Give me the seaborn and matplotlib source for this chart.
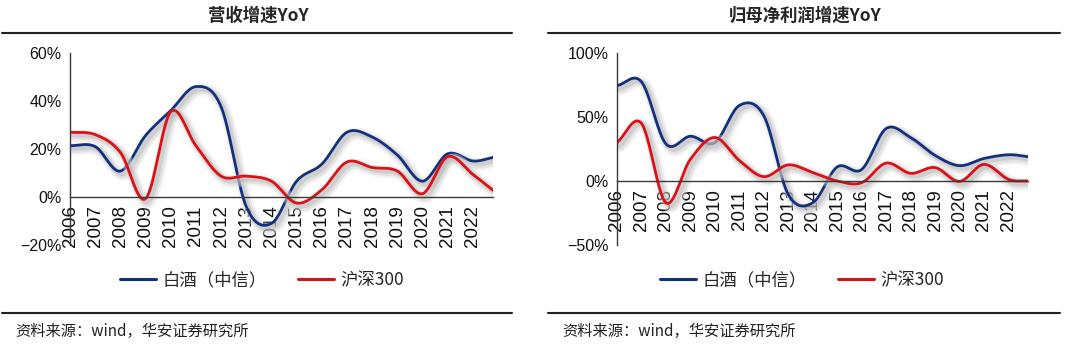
import numpy as np
import pandas as pd
import matplotlib
matplotlib.use("Agg")
import matplotlib.pyplot as plt
import matplotlib.patheffects as pe
from matplotlib.lines import Line2D
import seaborn as sns

# ---------------- data ----------------
years = [str(y) for y in range(2006, 2023)]
period_x = [2006, 2007, 2008, 2009, 2010, 2011, 2012, 2013, 2014, 2015,
            2016, 2017, 2018, 2019, 2020, 2021, 2022, 2022.8]

rev_baijiu = [21.4, 21.0, 10.8, 25.6, 36.0, 46.0, 37.6, -4.0, -11.0, 6.6,
              13.7, 27.0, 25.0, 17.5, 6.6, 18.0, 15.0, 16.5]
rev_hs300 = [27.0, 26.0, 18.6, -0.7, 35.5, 21.4, 8.7, 8.7, 6.6, -2.5,
             3.0, 14.6, 12.3, 10.8, 1.4, 16.8, 9.4, 2.8]

profit_baijiu = [74.5, 77.5, 29.0, 35.0, 30.0, 59.0, 51.0, -10.5, -17.0, 11.0,
                 9.0, 41.0, 34.0, 20.0, 12.0, 17.6, 20.5, 19.0]
profit_hs300 = [30.0, 45.0, -17.0, 17.0, 34.0, 16.0, 3.4, 12.6, 6.6, 0.0,
                -1.3, 14.0, 6.0, 10.5, -0.3, 13.0, 1.3, 0.0]

series_names = ["白酒（中信）", "沪深300"]
titles = ["营收增速YoY", "归母净利润增速YoY"]
source_text = "资料来源：wind，华安证券研究所"

BLUE = "#13307f"
RED = "#dd1016"

# ---------------- style ----------------
sns.set_theme(style="white")
plt.rcParams["font.family"] = ["Liberation Sans", "Noto Sans CJK SC", "DejaVu Sans"]
plt.rcParams["axes.unicode_minus"] = True
CJK = ["Noto Sans CJK SC", "Liberation Sans", "DejaVu Sans"]
LAT = ["Liberation Sans", "DejaVu Sans"]


def smooth(xs, ys, n=30):
    """Catmull-Rom rendering of a smoothed line (like a spreadsheet 'smoothed line')."""
    P = np.column_stack([xs, ys]).astype(float)
    P = np.vstack([2 * P[0] - P[1], P, 2 * P[-1] - P[-2]])
    out = []
    for i in range(1, len(P) - 2):
        p0, p1, p2, p3 = P[i - 1], P[i], P[i + 1], P[i + 2]
        t = np.linspace(0, 1, n, endpoint=False)[:, None]
        seg = 0.5 * ((2 * p1) + (-p0 + p2) * t + (2 * p0 - 5 * p1 + 4 * p2 - p3) * t ** 2
                     + (-p0 + 3 * p1 - 3 * p2 + p3) * t ** 3)
        out.append(seg)
    out.append(P[-2][None, :])
    S = np.vstack(out)
    return S[:, 0], S[:, 1]


shadow = [
    pe.Stroke(linewidth=9, foreground="#e0e0e0", alpha=0.35, offset=(2.5, -2.5)),
    pe.Stroke(linewidth=6, foreground="#c4c4c4", alpha=0.35, offset=(2.5, -2.5)),
    pe.Stroke(linewidth=3.5, foreground="#a8a8a8", alpha=0.35, offset=(2, -2)),
    pe.Normal(),
]

fig = plt.figure(figsize=(10.8, 3.45), dpi=100)

panels = [
    dict(rect=[70 / 1080, 1 - 245 / 345, (493 - 70) / 1080, 192 / 345],
         data=[rev_baijiu, rev_hs300], ylim=(-20, 60), yticks=[-20, 0, 20, 40, 60],
         title_x=258, rule=(2, 512), legend_x=262, src_x=15),
    dict(rect=[617 / 1080, 1 - 245 / 345, (1028 - 617) / 1080, 192 / 345],
         data=[profit_baijiu, profit_hs300], ylim=(-50, 100), yticks=[-50, 0, 50, 100],
         title_x=805, rule=(548, 1060), legend_x=802, src_x=562),
]

for k, p in enumerate(panels):
    ax = fig.add_axes(p["rect"])
    for vals, name, col in zip(p["data"], series_names, [BLUE, RED]):
        sx, sy = smooth(period_x, vals)
        df = pd.DataFrame({"x": sx, "y": sy})
        sns.lineplot(data=df, x="x", y="y", ax=ax, color=col, linewidth=2.0,
                     sort=False, estimator=None, label=name)
        ax.lines[-1].set_path_effects(shadow)
        ax.lines[-1].set_solid_capstyle("round")
    ax.set_xlim(2006, 2022.8)
    ax.set_ylim(*p["ylim"])
    ax.set_xlabel("")
    ax.set_ylabel("")
    for s in ["top", "right"]:
        ax.spines[s].set_visible(False)
    ax.spines["bottom"].set_position(("data", 0))
    ax.spines["bottom"].set_bounds(2006, 2022.8)
    for s in ["left", "bottom"]:
        ax.spines[s].set_color("#3a3a3a")
        ax.spines[s].set_linewidth(1.0)
    ax.tick_params(axis="both", direction="out", length=4, width=1.0, color="#3a3a3a",
                   pad=2, labelcolor="#111111")
    ax.tick_params(axis="x", length=5, pad=1, labelrotation=90)
    ax.set_yticks(p["yticks"])
    ax.set_yticklabels([f"{v}%".replace("-", "−") for v in p["yticks"]],
                       fontsize=11.5, family=LAT)
    ax.set_xticks([int(y) for y in years])
    ax.set_xticklabels(years, rotation=90, fontsize=13.5, family=LAT,
                       ha="center", va="top")
    ax.grid(False)
    ax.set_facecolor("white")
    handles, labels = ax.get_legend_handles_labels()
    ax.get_legend().remove()
    clean = [Line2D([0], [0], color=h.get_color(), linewidth=2.2) for h in handles]
    fig.legend(clean, labels, loc="center", ncol=2, frameon=False,
               bbox_to_anchor=(p["legend_x"] / 1080, 1 - 280 / 345),
               prop={"family": CJK, "size": 12.5}, handlelength=2.1,
               handletextpad=0.35, columnspacing=1.8)

    # title, rules, source
    fig.text(p["title_x"] / 1080, 1 - 16 / 345, titles[k], ha="center", va="center",
             fontsize=12.5, fontweight="bold", family=CJK)
    x0, x1 = p["rule"]
    for yy in (33, 313):
        fig.add_artist(Line2D([x0 / 1080, x1 / 1080], [1 - yy / 345, 1 - yy / 345],
                              transform=fig.transFigure, color="#222222", linewidth=1.5))
    fig.text(p["src_x"] / 1080, 1 - 331 / 345, source_text, ha="left", va="center",
             fontsize=11, family=CJK, color="#222222")

fig.savefig("out.png", dpi=100, facecolor="white")
